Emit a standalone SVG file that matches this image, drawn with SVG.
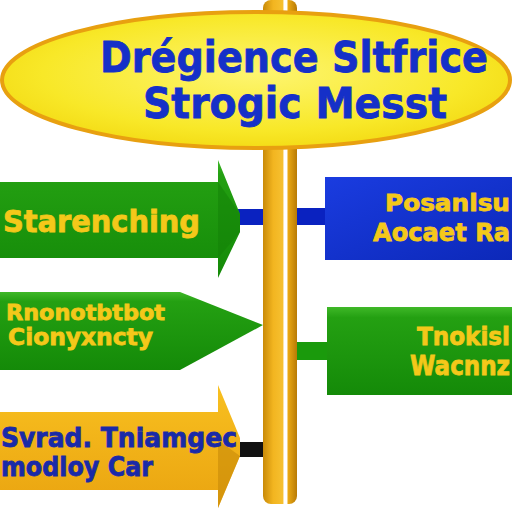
<svg xmlns="http://www.w3.org/2000/svg" width="512" height="512" viewBox="0 0 512 512">
<defs>
<linearGradient id="pole" x1="0" y1="0" x2="1" y2="0">
<stop offset="0" stop-color="#c98a08"/><stop offset="0.3" stop-color="#f2b520"/><stop offset="0.58" stop-color="#f6c030"/><stop offset="0.62" stop-color="#ffffff"/><stop offset="0.7" stop-color="#ffffff"/><stop offset="0.74" stop-color="#eaa812"/><stop offset="1" stop-color="#b87a06"/>
</linearGradient>
<radialGradient id="sign" cx="0.5" cy="0.45" r="0.6">
<stop offset="0" stop-color="#fdf570"/><stop offset="0.7" stop-color="#f8e828"/><stop offset="1" stop-color="#f2d810"/>
</radialGradient>
<linearGradient id="green" x1="0" y1="0" x2="0" y2="1">
<stop offset="0" stop-color="#3fb828"/><stop offset="0.12" stop-color="#24a012"/><stop offset="1" stop-color="#148a08"/>
</linearGradient>
<linearGradient id="blue" x1="0" y1="0" x2="1" y2="1">
<stop offset="0" stop-color="#1a3ce0"/><stop offset="1" stop-color="#0c28b8"/>
</linearGradient>
<linearGradient id="orange" x1="0" y1="0" x2="0" y2="1">
<stop offset="0" stop-color="#f8c020"/><stop offset="1" stop-color="#eaa410"/>
</linearGradient>
<style>
.t{font-family:"DejaVu Sans","Liberation Sans",sans-serif;font-weight:bold;stroke-width:0.8px}
.title{fill:#1530c8;stroke:#1530c8;font-size:42px}
.yl{fill:#f4c81a;stroke:#f4c81a}
.bl{fill:#1a2aa8;stroke:#1a2aa8}
</style>
</defs>
<g id="connectors">
<rect x="238" y="209" width="30" height="16" fill="#0a22c0"/>
<rect x="292" y="208" width="36" height="17" fill="#0a22c0"/>
<rect x="292" y="342" width="40" height="18" fill="#1a9a0c"/>
<rect x="236" y="442" width="34" height="15" fill="#111111"/>
</g>
<g id="pole-post">
<rect x="263" y="0" width="34" height="504" rx="8" fill="url(#pole)"/>
</g>
<g id="sign-main">
<ellipse cx="256" cy="80" rx="254" ry="68" fill="url(#sign)" stroke="#e8a010" stroke-width="4"/>
<text class="t title" x="100" y="72" textLength="388" lengthAdjust="spacingAndGlyphs">Drégience Sltfrice</text>
<text class="t title" x="143" y="118" textLength="304" lengthAdjust="spacingAndGlyphs">Strogic Messt</text>
</g>
<g id="arrow-1">
<polygon points="0,182 218,182 218,160 240,214 240,232 218,278 218,258 0,258" fill="url(#green)"/>
<polygon points="218,182 240,214 240,232 218,258" fill="#128006" opacity="0.5"/>
<text class="t yl" x="3" y="232" font-size="30" textLength="197" lengthAdjust="spacingAndGlyphs">Starenching</text>
</g>
<g id="box-1">
<rect x="325" y="177" width="195" height="83" fill="url(#blue)"/>
<text class="t yl" x="385" y="211" font-size="23" textLength="125" lengthAdjust="spacingAndGlyphs">Posanlsu</text>
<text class="t yl" x="373" y="241" font-size="25" textLength="137" lengthAdjust="spacingAndGlyphs">Aocaet Ra</text>
</g>
<g id="arrow-2">
<polygon points="0,292 180,292 263,325 180,370 0,370" fill="url(#green)"/>
<text class="t yl" x="6" y="320" font-size="21" textLength="159" lengthAdjust="spacingAndGlyphs">Rnonotbtbot</text>
<text class="t yl" x="8" y="345" font-size="23" textLength="145" lengthAdjust="spacingAndGlyphs">Cionyxncty</text>
</g>
<g id="box-2">
<rect x="327" y="307" width="193" height="88" fill="url(#green)"/>
<text class="t yl" x="417" y="345" font-size="25" textLength="93" lengthAdjust="spacingAndGlyphs">Tnokisl</text>
<text class="t yl" x="410" y="375" font-size="27" textLength="100" lengthAdjust="spacingAndGlyphs">Wacnnz</text>
</g>
<g id="arrow-3">
<polygon points="0,412 218,412 218,385 240,438 240,456 218,508 218,490 0,490" fill="url(#orange)"/>
<polygon points="218,440 240,456 218,508" fill="#c88a08" opacity="0.6"/>
<text class="t bl" x="1" y="447" font-size="26" textLength="236" lengthAdjust="spacingAndGlyphs">Svrad. Tniamgec</text>
<text class="t bl" x="1" y="476" font-size="26" textLength="152" lengthAdjust="spacingAndGlyphs">modloy Car</text>
</g>
</svg>
